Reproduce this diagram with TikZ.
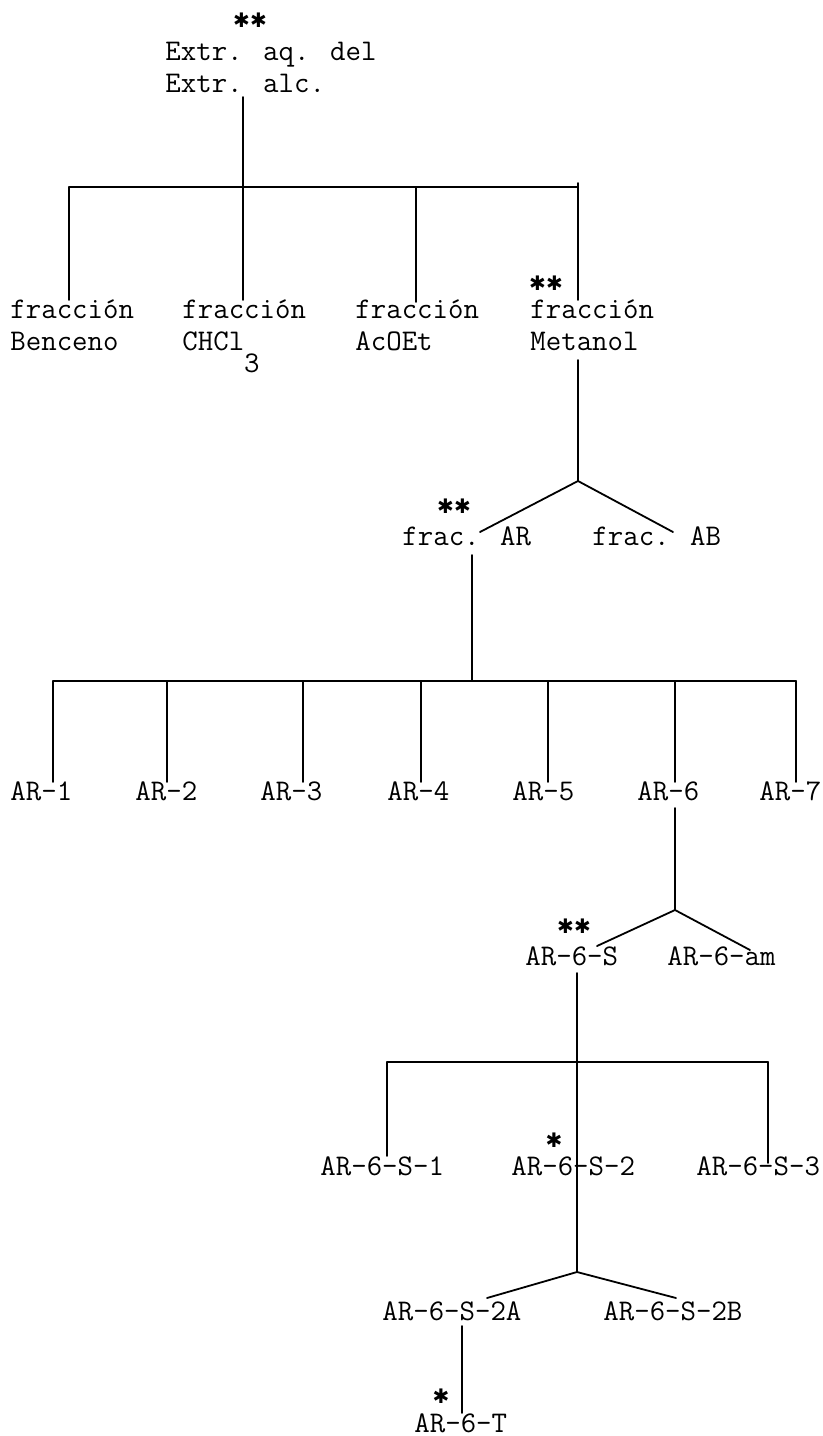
\documentclass[tikz,border=0pt]{standalone}
\usepackage{fontspec}
\newfontfamily\starfont{DejaVu Sans}
\newcommand\duo[2]{\vtop{\hbox{#1}\hbox{#2}}}
\tikzset{
  lbl/.style={font=\fontsize{15}{16}\selectfont\ttfamily, inner sep=0pt, anchor=base west},
  starmark/.style={font=\fontsize{10}{10}\selectfont\starfont, inner sep=0pt},
  ln/.style={line width=0.9pt, line cap=round, line join=round}
}
\begin{document}
\begin{tikzpicture}[x=0.5pt,y=-0.5pt]
\useasboundingbox (0,0) rectangle (823,1436);
% ---------- level 0
\node[starmark] (s0) at (250,20) {✱✱};
\node[lbl] (root) at (165,60) {\duo{Extr. aq. del}{Extr. alc.}};
\coordinate (r0) at (243,97);
\coordinate (j0) at (243,187);
\coordinate (b0l) at (69,187);
\coordinate (b0r) at (578,187);
\coordinate (b0m) at (416,187);
\draw[ln] (r0) -- (j0);
\draw[ln] (b0l) -- (b0r);
% ---------- level 1
\node[lbl] (f1) at (10,318) {\duo{fracción}{Benceno}};
\node[lbl] (f2) at (182,318) {\duo{fracción}{CHCl\raisebox{-11pt}{3}}};
\node[lbl] (f3) at (355,318) {\duo{fracción}{AcOEt}};
\node[lbl] (f4) at (530,318) {\duo{fracción}{Metanol}};
\node[starmark] (s1) at (546,283) {✱✱};
\coordinate (e1) at (69,300);
\coordinate (e2) at (243,300);
\coordinate (e3) at (416,302);
\coordinate (e4top) at (578,183);
\coordinate (e4) at (578,300);
\draw[ln] (b0l) -- (e1);
\draw[ln] (j0) -- (e2);
\draw[ln] (b0m) -- (e3);
\draw[ln] (e4top) -- (e4);
% ---------- level 2
\coordinate (m1) at (578,360);
\coordinate (v1) at (578,481);
\coordinate (a1) at (480,532);
\coordinate (a2) at (673,532);
\draw[ln] (m1) -- (v1);
\draw[ln] (a1) -- (v1) -- (a2);
\node[starmark] (s2) at (454,506) {✱✱};
\node[lbl] (fAR) at (402,545) {frac. AR};
\node[lbl] (fAB) at (592,545) {frac. AB};
% ---------- level 3
\coordinate (m2) at (472,555);
\coordinate (j2) at (472,681);
\coordinate (b2l) at (53,681);
\coordinate (b2r) at (796,681);
\draw[ln] (m2) -- (j2);
\draw[ln] (b2l) -- (b2r);
\foreach \nm/\tx/\lx/\vx in {ar1/AR-1/10/53, ar2/AR-2/135/167, ar3/AR-3/260/303, ar4/AR-4/387/421, ar5/AR-5/512/548, ar6/AR-6/637/675, ar7/AR-7/759/796}{
  \node[lbl] (\nm) at (\lx,800) {\tx};
  \coordinate (\nm t) at (\vx,681);
  \coordinate (\nm e) at (\vx,782);
  \draw[ln] (\nm t) -- (\nm e);
}
% ---------- level 4
\coordinate (m3) at (675,808);
\coordinate (v2) at (675,910);
\coordinate (a3) at (597,946);
\coordinate (a4) at (750,950);
\draw[ln] (m3) -- (v2);
\draw[ln] (a3) -- (v2) -- (a4);
\node[starmark] (s3) at (574,926) {✱✱};
\node[lbl] (as) at (525,965) {AR-6-S};
\node[lbl] (aam) at (667,965) {AR-6-am};
% ---------- level 5
\coordinate (m4) at (577,973);
\coordinate (j4) at (577,1062);
\coordinate (b4l) at (387,1062);
\coordinate (b4r) at (768,1062);
\coordinate (e5) at (387,1156);
\coordinate (e7) at (768,1163);
\coordinate (v4) at (577,1272);
\draw[ln] (m4) -- (j4) -- (v4);
\draw[ln] (b4l) -- (b4r);
\draw[ln] (b4l) -- (e5);
\draw[ln] (b4r) -- (e7);
\node[starmark] (s4) at (554,1140) {✱};
\node[lbl] (s21) at (320,1175) {AR-6-S-1};
\node[lbl] (s22) at (511,1175) {AR-6-S-2};
\node[lbl] (s23) at (696,1175) {AR-6-S-3};
% ---------- level 6
\coordinate (a5) at (487,1298);
\coordinate (a6) at (676,1298);
\draw[ln] (a5) -- (v4) -- (a6);
\node[lbl] (s2a) at (382,1320) {AR-6-S-2A};
\node[lbl] (s2b) at (603,1320) {AR-6-S-2B};
% ---------- level 7
\coordinate (m5) at (462,1326);
\coordinate (e8) at (462,1413);
\draw[ln] (m5) -- (e8);
\node[starmark] (s5) at (441,1396) {✱};
\node[lbl] (t) at (414,1432) {AR-6-T};
\end{tikzpicture}
\end{document}
